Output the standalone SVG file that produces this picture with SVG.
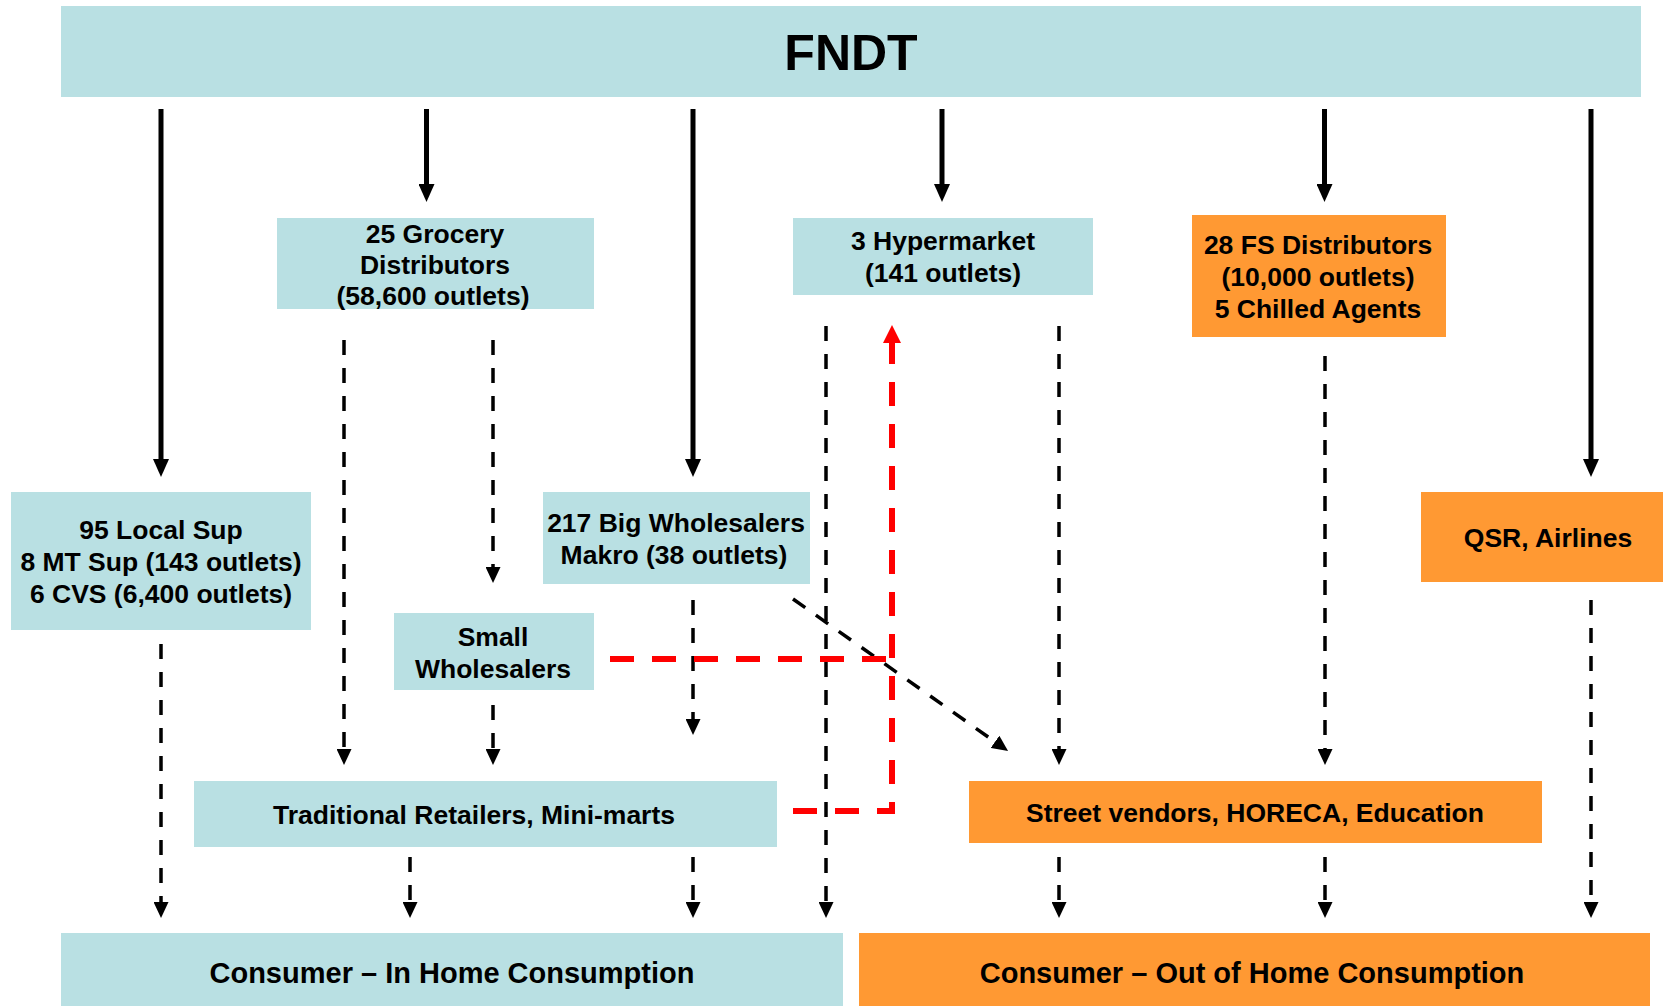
<svg xmlns="http://www.w3.org/2000/svg" width="1663" height="1006" viewBox="0 0 1663 1006">
<style>
.b{fill:#B9E0E3}
.o{fill:#FF9933}
text{font-family:"Liberation Sans",Arial,sans-serif;font-weight:bold;fill:#000;text-anchor:middle;font-size:26.5px}
.big{font-size:50px}
.cons{font-size:29px}
.s{stroke:#000;stroke-width:5;fill:none}
.d{stroke:#000;stroke-width:3.5;fill:none;stroke-dasharray:15 13}
.r{stroke:#FF0000;stroke-width:6;fill:none;stroke-dasharray:24 18}
</style>
<defs>
<marker id="as" markerUnits="userSpaceOnUse" markerWidth="18" markerHeight="16" refX="0" refY="8" orient="auto"><path d="M0,0 L18,8 L0,16 Z" fill="#000"/></marker>
<marker id="ad" markerUnits="userSpaceOnUse" markerWidth="16" markerHeight="15" refX="0" refY="7.5" orient="auto"><path d="M0,0 L16,7.5 L0,15 Z" fill="#000"/></marker>
<marker id="ar" markerUnits="userSpaceOnUse" markerWidth="18" markerHeight="18" refX="0" refY="9" orient="auto"><path d="M0,0 L18,9 L0,18 Z" fill="#FF0000"/></marker>
</defs>
<rect width="1663" height="1006" fill="#fff"/>
<g id="fndt"><rect class="b" x="61" y="6" width="1580" height="91"/><text class="big" x="851" y="70">FNDT</text></g>
<g id="grocery"><rect class="b" x="277" y="218" width="317" height="91"/><text x="435" y="243">25 Grocery</text><text x="435" y="274">Distributors</text><text x="433" y="305">(58,600 outlets)</text></g>
<g id="hypermarket"><rect class="b" x="793" y="218" width="300" height="77"/><text x="943" y="250">3 Hypermarket</text><text x="943" y="282">(141 outlets)</text></g>
<g id="fs"><rect class="o" x="1192" y="215" width="254" height="122"/><text x="1318" y="254">28 FS Distributors</text><text x="1318" y="286">(10,000 outlets)</text><text x="1318" y="318">5 Chilled Agents</text></g>
<g id="localsup"><rect class="b" x="11" y="492" width="300" height="138"/><text x="161" y="539">95 Local Sup</text><text x="161" y="571">8 MT Sup (143 outlets)</text><text x="161" y="603">6 CVS (6,400 outlets)</text></g>
<g id="bigwholesalers"><rect class="b" x="543" y="492" width="267" height="92"/><text x="676" y="532">217 Big Wholesalers</text><text x="674" y="564">Makro (38 outlets)</text></g>
<g id="qsr"><rect class="o" x="1421" y="492" width="242" height="90"/><text x="1548" y="547">QSR, Airlines</text></g>
<g id="smallwholesalers"><rect class="b" x="394" y="613" width="200" height="77"/><text x="493" y="646">Small</text><text x="493" y="678">Wholesalers</text></g>
<g id="traditional"><rect class="b" x="194" y="781" width="583" height="66"/><text x="474" y="824">Traditional Retailers, Mini-marts</text></g>
<g id="street"><rect class="o" x="969" y="781" width="573" height="62"/><text x="1255" y="822">Street vendors, HORECA, Education</text></g>
<g id="inhome"><rect class="b" x="61" y="933" width="782" height="73"/><text class="cons" x="452" y="983">Consumer – In Home Consumption</text></g>
<g id="outhome"><rect class="o" x="859" y="933" width="791" height="73"/><text class="cons" x="1252" y="983">Consumer – Out of Home Consumption</text></g>
<g id="connectors">
<path class="s" d="M161,109 V459" marker-end="url(#as)"/>
<path class="s" d="M426.5,109 V184" marker-end="url(#as)"/>
<path class="s" d="M693,109 V459" marker-end="url(#as)"/>
<path class="s" d="M942,109 V184" marker-end="url(#as)"/>
<path class="s" d="M1324.5,109 V184" marker-end="url(#as)"/>
<path class="s" d="M1591,109 V459" marker-end="url(#as)"/>
<path class="d" d="M344,340 V749" marker-end="url(#ad)"/>
<path class="d" d="M493,340 V567" marker-end="url(#ad)"/>
<path class="d" d="M493,705 V749" marker-end="url(#ad)"/>
<path class="d" d="M693,600 V719" marker-end="url(#ad)"/>
<path class="d" d="M161,644 V902" marker-end="url(#ad)"/>
<path class="d" d="M410,857 V902" marker-end="url(#ad)"/>
<path class="d" d="M693,857 V902" marker-end="url(#ad)"/>
<path class="d" d="M826,326 V902" marker-end="url(#ad)"/>
<path class="d" d="M1059,326 V749" marker-end="url(#ad)"/>
<path class="d" d="M1325,356 V749" marker-end="url(#ad)"/>
<path class="d" d="M1059,857 V902" marker-end="url(#ad)"/>
<path class="d" d="M1325,857 V902" marker-end="url(#ad)"/>
<path class="d" d="M1591,600 V902" marker-end="url(#ad)"/>
<path class="d" d="M793,599 L995,741.8" marker-end="url(#ad)"/>
<path class="r" d="M610,659 H895"/>
<path class="r" d="M793,811 H892 V343" marker-end="url(#ar)"/>
</g>
</svg>
